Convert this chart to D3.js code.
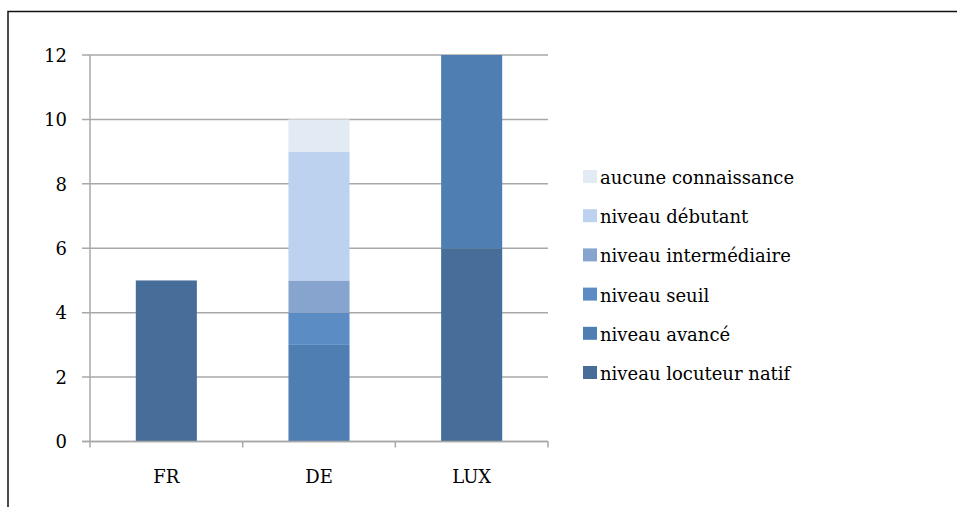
<!DOCTYPE html>
<html>
<head>
<meta charset="utf-8">
<script src="https://cdn.jsdelivr.net/npm/d3@7"></script>
<style>
	body { margin: 0; background: #fff; }
	text { font-family: "DejaVu Serif", serif; fill: #000; }
</style>
</head>
<body>
<div id="chart"></div>
<script>
var WIDTH = 957;
var HEIGHT = 507;

// data
var countries = ["FR", "DE", "LUX"];
var levels = ["niveau locuteur natif", "niveau avancé", "niveau seuil",
	"niveau intermédiaire", "niveau débutant", "aucune connaissance"];
var natif = [5, 0, 6];
var avance = [0, 3, 6];
var seuil = [0, 1, 0];
var intermediaire = [0, 1, 0];
var debutant = [0, 4, 0];
var aucune = [0, 1, 0];
var yTicks = [0, 2, 4, 6, 8, 10, 12];

var colors = ["#476d99", "#4f7fb2", "#5b8cc4", "#87a4cf", "#bcd2ee", "#e2eaf4"];

var seriesValues = [natif, avance, seuil, intermediaire, debutant, aucune];
var rows = countries.map((c, i) => {
	var obj = { country: c };
	levels.forEach((l, j) => obj[l] = seriesValues[j][i]);
	return obj;
});

var margin = { top: 55, right: 409, bottom: 65.5, left: 90 };
var plotWidth = WIDTH - margin.left - margin.right;
var plotHeight = HEIGHT - margin.top - margin.bottom;

var svg = d3.select("#chart").append("svg")
	.attr("width", WIDTH).attr("height", HEIGHT);

// outer frame (only top and left visible)
svg.append("path")
	.attr("d", "M8,507V11.5H957")
	.attr("fill", "none")
	.attr("stroke", "#111")
	.attr("stroke-width", 1.5);

var inner = svg.append("g")
	.attr("transform", `translate(${margin.left},${margin.top})`);

// scales
var xScale = d3.scaleBand().domain(countries).range([0, plotWidth])
	.paddingInner(0.6).paddingOuter(0.3);
var yScale = d3.scaleLinear().domain([0, 12]).range([plotHeight, 0]);

// gridlines
inner.append("g")
	.selectAll("line")
	.data(yTicks)
	.enter()
	.append("line")
	.attr("x1", -8).attr("x2", plotWidth)
	.attr("y1", d => yScale(d)).attr("y2", d => yScale(d))
	.attr("stroke", "#a8a8a8")
	.attr("stroke-width", 1.5);

// y axis
var yAxisG = inner.append("g")
	.call(d3.axisLeft(yScale).tickValues(yTicks).tickSize(0).tickPadding(23));
yAxisG.select(".domain").remove();
yAxisG.selectAll("text").style("font-size", "18px").attr("dy", "0.35em");
inner.append("line")
	.attr("x1", 0).attr("x2", 0)
	.attr("y1", 0).attr("y2", plotHeight + 6)
	.attr("stroke", "#a8a8a8").attr("stroke-width", 1.5);

// x axis ticks at category boundaries
var step = xScale.step();
inner.append("g")
	.selectAll("line")
	.data(d3.range(1, countries.length + 1))
	.enter()
	.append("line")
	.attr("x1", d => d * step).attr("x2", d => d * step)
	.attr("y1", plotHeight).attr("y2", plotHeight + 6)
	.attr("stroke", "#a8a8a8").attr("stroke-width", 1.5);

// stacked bars
var stacked = d3.stack().keys(levels)(rows);
inner.selectAll(".layer")
	.data(stacked)
	.enter()
	.append("g")
	.attr("class", "layer")
	.attr("fill", (d, i) => colors[i])
	.selectAll("rect")
	.data(d => d.filter(p => p[1] > p[0]))
	.enter()
	.append("rect")
	.attr("x", d => xScale(d.data.country))
	.attr("width", xScale.bandwidth())
	.attr("y", d => yScale(d[1]))
	.attr("height", d => yScale(d[0]) - yScale(d[1]));

// x labels
var xAxisG = inner.append("g")
	.attr("transform", `translate(0, ${plotHeight})`)
	.call(d3.axisBottom(xScale).tickSize(0).tickPadding(29));
xAxisG.select(".domain").remove();
xAxisG.selectAll("text").style("font-size", "18px");

// baseline
inner.append("line")
	.attr("x1", -8).attr("x2", plotWidth)
	.attr("y1", plotHeight).attr("y2", plotHeight)
	.attr("stroke", "#a8a8a8").attr("stroke-width", 1.5);

// legend
var legend = svg.append("g").attr("transform", "translate(583, 170)");
var legendItems = legend.selectAll("g")
	.data(levels.map((l, i) => ({ name: l, color: colors[i] })).reverse())
	.enter()
	.append("g")
	.attr("transform", (d, i) => `translate(0, ${i * 39.2})`);
legendItems.append("rect")
	.attr("width", 14).attr("height", 13)
	.attr("fill", d => d.color);
legendItems.append("text")
	.attr("x", 17).attr("y", 14)
	.style("font-size", "18px")
	.text(d => d.name);
</script>
</body>
</html>
